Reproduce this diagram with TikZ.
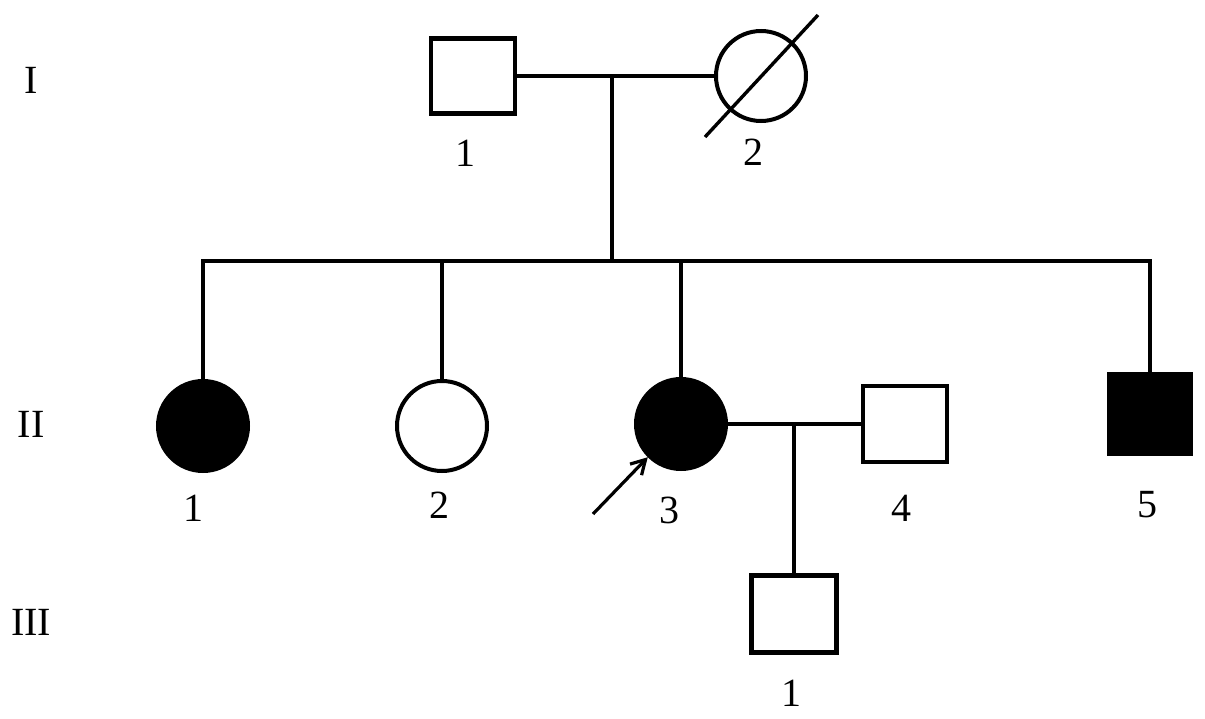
\documentclass[tikz,border=0pt]{standalone}
\usepackage{fontspec}
\setmainfont{Liberation Serif}
\usetikzlibrary{arrows.meta}
\begin{document}
\begin{tikzpicture}[x=1pt,y=-1pt,
  male/.style={draw=black,line width=4.2pt,rectangle,minimum width=84pt,minimum height=75pt,inner sep=0pt,fill=white},
  female/.style={draw=black,line width=4pt,circle,minimum size=90pt,inner sep=0pt,fill=white},
  affected/.style={fill=black},
  link/.style={line width=3.5pt,line cap=rect},
  lbl/.style={inner sep=0pt,font=\fontsize{40}{40}\selectfont}]
\useasboundingbox (0,0) rectangle (1205,718);
\fill[white] (0,0) rectangle (1205,718);

% generation labels
\node[lbl] (g1) at (31,80) {I};
\node[lbl] (g2) at (31,424) {II};
\node[lbl] (g3) at (31,622) {III};

% individuals
\node[male] (i1) at (473,76) {};
\node[female] (i2) at (761,76) {};
\node[female,affected] (ii1) at (203,426) {};
\node[female] (ii2) at (442,426) {};
\node[female,affected] (ii3) at (681,424) {};
\node[male,minimum width=84pt,minimum height=76pt] (ii4) at (905,424) {};
\node[male,affected,minimum width=82pt,minimum height=80pt] (ii5) at (1150,414) {};
\node[male,minimum width=85pt,minimum height=77pt] (iii1) at (794,614) {};

% numbers
\node[lbl] (n11) at (465,153) {1};
\node[lbl] (n12) at (753,152) {2};
\node[lbl] (n21) at (193,508) {1};
\node[lbl] (n22) at (439,505) {2};
\node[lbl] (n23) at (669,510) {3};
\node[lbl] (n24) at (901,508) {4};
\node[lbl] (n25) at (1147,505) {5};
\node[lbl] (n31) at (791,693) {1};

% coordinates
\coordinate (m1) at (612,76);
\coordinate (s1) at (612,261);
\coordinate (sl) at (203,261);
\coordinate (sr) at (1150,261);
\coordinate (m2) at (794,424);
\coordinate (ar) at (593,514);
\coordinate (d1) at (705,137);
\coordinate (d2) at (818,15);

% connectors
\draw[link] (i1.east) -- (i2.west);
\draw[link] (m1) -- (s1);
\draw[link] (sl) -- (sr);
\draw[link] (sl) -- (ii1.north);
\draw[link] (ii2.north |- sl) -- (ii2.north);
\draw[link] (ii3.north |- sl) -- (ii3.north);
\draw[link] (sr) -- (ii5.north);
\draw[link] (ii3.east) -- (ii4.west);
\draw[link] (m2) -- (iii1.north);

% deceased slash
\draw[line width=3.4pt] (d1) -- (d2);

% proband arrow
\draw[line width=3.2pt,-{Straight Barb[length=14pt,width=16pt,line width=3.2pt]}] (ar) -- (ii3.225);
\end{tikzpicture}
\end{document}
